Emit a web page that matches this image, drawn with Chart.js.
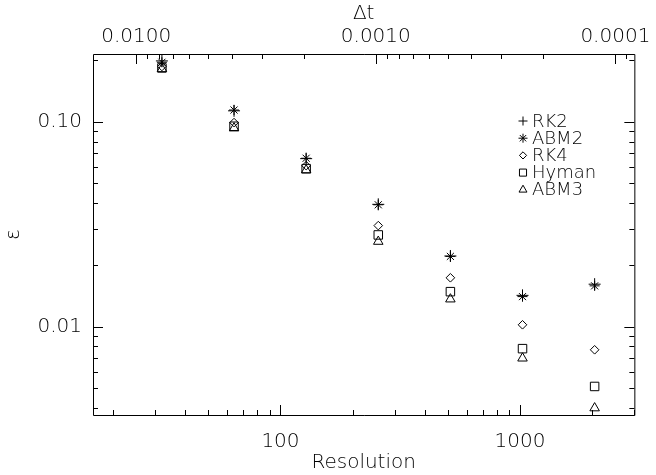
<!DOCTYPE html>
<html>
<head>
<meta charset="utf-8">
<script src="https://cdn.jsdelivr.net/npm/chart.js@4.4.1/dist/chart.umd.min.js"></script>
<style>
  body { margin: 0; background: #fff; }
  #wrap { width: 656px; height: 475px; }
</style>
</head>
<body>
<div id="wrap"><canvas id="errChart" width="656" height="475"></canvas></div>
<script>
// values
const resolution = [32, 64, 128, 256, 512, 1024, 2048];
const rk2   = [0.198, 0.113, 0.066, 0.0395, 0.0221, 0.0142, 0.0161];
const abm2  = [0.195, 0.114, 0.0663, 0.0393, 0.0220, 0.0140, 0.0158];
const rk4   = [0.186, 0.099, 0.061, 0.0311, 0.0173, 0.0102, 0.0077];
const hyman = [0.183, 0.095, 0.059, 0.0280, 0.0148, 0.0078, 0.0051];
const abm3  = [0.181, 0.093, 0.058, 0.0260, 0.0136, 0.0070, 0.0040];

const seriesNames = ["RK2", "ABM2", "RK4", "Hyman", "ABM3"];

const xTicks = [100, 1000];
const xTickLabels = ["100", "1000"];
const yTicks = [0.01, 0.1];
const yTickLabels = ["0.01", "0.10"];
const dtTicks = [0.01, 0.001, 0.0001];
const dtTickLabels = ["0.0100", "0.0010", "0.0001"];

const dtFactor = 0.25;   // dt = dtFactor / resolution
const xMin = 16.5, xMax = 3000;
const yMin = 0.0037, yMax = 0.214;

const font = { family: "DejaVu Sans", size: 20, weight: 200 };

function minorTicks(lo, hi) {
  const out = [];
  for (let e = Math.floor(Math.log10(lo)); e <= Math.ceil(Math.log10(hi)); e++) {
    for (let m = 2; m <= 9; m++) {
      const v = m * Math.pow(10, e);
      if (v >= lo && v <= hi) out.push(v);
    }
  }
  return out;
}

function pts(ys) {
  return resolution.map((r, i) => ({ x: r, y: ys[i] }));
}

const styles = [
  { pointStyle: "cross", radius: 6, legendRadius: 4.5 },
  { pointStyle: "star", radius: 5, legendRadius: 4.5 },
  { pointStyle: "rectRot", radius: 4.3, legendRadius: 3.6 },
  { pointStyle: "rect", radius: 6, legendRadius: 5 },
  { pointStyle: "triangle", radius: 5.5, legendRadius: 4.6 }
];

const seriesData = [rk2, abm2, rk4, hyman, abm3];

const datasets = seriesData.map((d, i) => ({
  label: seriesNames[i],
  data: pts(d),
  showLine: false,
  pointStyle: styles[i].pointStyle,
  pointRadius: styles[i].radius,
  pointBorderWidth: 1,
  borderColor: "#000",
  backgroundColor: "rgba(0,0,0,0)",
  xAxisID: "x",
  yAxisID: "y"
}));

// box + inward ticks, like the original plot frame
const framePlugin = {
  id: "frame",
  afterDraw(chart) {
    const { ctx, chartArea: a, scales } = chart;
    ctx.save();
    ctx.strokeStyle = "#000";
    ctx.lineWidth = 1;
    ctx.beginPath();
    ctx.rect(a.left + 0.5, a.top + 0.5, a.right - a.left, a.bottom - a.top);

    const tick = (px, major, side) => {
      const len = major ? 10 : 5;
      const p = Math.round(px) + 0.5;
      if (side === "bottom") { ctx.moveTo(p, a.bottom); ctx.lineTo(p, a.bottom - len); }
      if (side === "top") { ctx.moveTo(p, a.top); ctx.lineTo(p, a.top + len); }
      if (side === "left") { ctx.moveTo(a.left, p); ctx.lineTo(a.left + len, p); }
      if (side === "right") { ctx.moveTo(a.right, p); ctx.lineTo(a.right - len, p); }
    };

    const sx = scales.x, sy = scales.y, st = scales.x2;
    minorTicks(xMin, xMax).forEach(v => tick(sx.getPixelForValue(v), false, "bottom"));
    xTicks.forEach(v => tick(sx.getPixelForValue(v), true, "bottom"));

    const dtLo = dtFactor / xMax, dtHi = dtFactor / xMin;
    minorTicks(dtLo, dtHi).forEach(v => tick(st.getPixelForValue(v), false, "top"));
    dtTicks.forEach(v => tick(st.getPixelForValue(v), true, "top"));

    minorTicks(yMin, yMax).forEach(v => {
      tick(sy.getPixelForValue(v), false, "left");
      tick(sy.getPixelForValue(v), false, "right");
    });
    yTicks.forEach(v => {
      tick(sy.getPixelForValue(v), true, "left");
      tick(sy.getPixelForValue(v), true, "right");
    });
    ctx.stroke();

    // legend, top right inside the plot
    const lx = a.left + 430, ly = a.top + 67, step = 17.2;
    ctx.textBaseline = "middle";
    ctx.textAlign = "left";
    ctx.font = "200 18px 'DejaVu Sans'";
    chart.data.datasets.forEach((ds, i) => {
      const y = ly + i * step;
      ctx.fillStyle = "rgba(0,0,0,0)";
      Chart.helpers.drawPoint(ctx, {
        pointStyle: ds.pointStyle,
        radius: styles[i].legendRadius,
        rotation: 0,
        borderWidth: 1
      }, lx, y);
      ctx.fillStyle = "#000";
      ctx.fillText(ds.label, lx + 9, y + 1);
    });
    ctx.restore();
  }
};

const ctx = document.getElementById("errChart").getContext("2d");

new Chart(ctx, {
  type: "scatter",
  data: { datasets },
  options: {
    responsive: false,
    animation: false,
    events: [],
    layout: { padding: { left: 0, right: 18, top: 0, bottom: 0 } },
    plugins: {
      legend: { display: false },
      tooltip: { enabled: false }
    },
    scales: {
      x: {
        type: "logarithmic",
        position: "bottom",
        min: xMin,
        max: xMax,
        bounds: "data",
        grid: { display: false, drawTicks: false },
        border: { display: false },
        afterBuildTicks: s => { s.ticks = xTicks.map(v => ({ value: v })); },
        afterFit: s => { s.height = 60; },
        ticks: {
          autoSkip: false,
          maxRotation: 0,
          padding: 15,
          color: "#000",
          font,
          callback: (v, i) => xTickLabels[i]
        },
        title: { display: true, text: "Resolution", color: "#000", font, padding: { top: 0, bottom: 0 } }
      },
      x2: {
        type: "logarithmic",
        position: "top",
        reverse: true,
        min: dtFactor / xMax,
        max: dtFactor / xMin,
        bounds: "data",
        grid: { display: false, drawTicks: false },
        border: { display: false },
        afterBuildTicks: s => { s.ticks = dtTicks.map(v => ({ value: v })); },
        afterFit: s => { s.height = 54; },
        ticks: {
          autoSkip: false,
          maxRotation: 0,
          padding: 5,
          color: "#000",
          font,
          callback: (v, i) => dtTickLabels[i]
        },
        title: { display: true, text: "Δt", color: "#000", font, padding: { top: 2, bottom: 0 } }
      },
      y: {
        type: "logarithmic",
        position: "left",
        min: yMin,
        max: yMax,
        bounds: "data",
        grid: { display: false, drawTicks: false },
        border: { display: false },
        afterBuildTicks: s => { s.ticks = yTicks.map(v => ({ value: v })); },
        afterFit: s => { s.width = 93; },
        ticks: {
          autoSkip: false,
          padding: 11,
          color: "#000",
          font,
          callback: (v, i) => yTickLabels[i]
        },
        title: { display: true, text: "ε", color: "#000", font, padding: { top: 2, bottom: 0 } }
      }
    }
  },
  plugins: [framePlugin]
});
</script>
</body>
</html>
